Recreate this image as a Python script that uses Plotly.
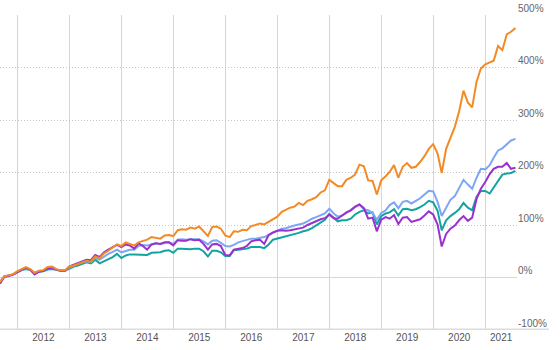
import pandas as pd
import plotly.graph_objects as go

# Monthly observations, Sep 2011 .. Aug 2021 (cumulative return, %)
start_month = "2011-09-01"
n_months = 120

orange = [-9, 2, 4, 6, 12, 16, 20, 16, 9, 13, 14, 20, 21, 16, 14, 14, 21, 23, 26, 29,
          32, 30, 40, 37, 46, 51, 57, 63, 60, 67, 64, 61, 67, 69, 72, 77, 75, 74, 80, 81,
          79, 90, 92, 91, 95, 93, 97, 88, 79, 96, 97, 93, 80, 77, 88, 87, 91, 90, 98, 100,
          103, 101, 106, 110, 116, 125, 129, 133, 135, 142, 138, 146, 149, 153, 162, 166, 186, 180, 174, 174,
          186, 190, 196, 215, 212, 185, 184, 158, 185, 193, 201, 214, 190, 211, 218, 209, 211, 220, 231, 245,
          254, 236, 199, 245, 265, 287, 316, 356, 333, 324, 373, 398, 406, 410, 413, 441, 433, 463, 468, 475]

blue = [-9, 2, 4, 6, 10, 15, 17, 15, 8, 12, 13, 17, 19, 15, 13, 13, 19, 23, 26, 29,
        31, 30, 37, 34, 40, 45, 49, 53, 48, 50, 53, 53, 60, 62, 61, 63, 65, 64, 66, 67,
        64, 72, 73, 72, 73, 73, 73, 69, 63, 70, 71, 66, 60, 59, 62, 67, 69, 71, 74, 74,
        75, 77, 81, 85, 90, 93, 94, 97, 99, 101, 103, 107, 112, 115, 118, 122, 131, 122, 116, 118,
        123, 128, 134, 139, 130, 128, 123, 110, 123, 128, 138, 143, 132, 144, 146, 141, 146, 151, 158, 165,
        164, 144, 117, 133, 148, 155, 169, 186, 177, 169, 190, 207, 206, 214, 228, 242, 246, 254, 261, 264]

purple = [-12, 1, 3, 5, 10, 15, 18, 15, 6, 11, 13, 17, 19, 15, 13, 13, 21, 24, 27, 30,
          34, 33, 43, 39, 48, 53, 58, 62, 58, 63, 61, 55, 65, 60, 53, 63, 65, 64, 67, 67,
          61, 71, 70, 70, 73, 71, 72, 64, 53, 63, 64, 60, 43, 42, 53, 54, 56, 60, 69, 71,
          72, 64, 81, 86, 89, 90, 89, 90, 92, 94, 95, 100, 104, 108, 111, 113, 120, 113, 112, 118,
          124, 128, 135, 139, 132, 112, 114, 88, 110, 115, 112, 119, 102, 114, 115, 106, 109, 111, 118, 126,
          120, 101, 59, 83, 93, 99, 109, 117, 108, 114, 150, 169, 182, 197, 207, 211, 211, 218, 207, 209]

teal = [-9, 2, 4, 6, 10, 14, 16, 14, 8, 11, 12, 15, 16, 14, 13, 13, 17, 21, 23, 26,
        29, 27, 34, 27, 31, 36, 39, 45, 37, 42, 44, 44, 44, 44, 43, 47, 48, 48, 51, 52,
        47, 55, 55, 54, 54, 55, 55, 50, 40, 51, 51, 48, 41, 41, 52, 53, 54, 55, 58, 58,
        58, 56, 63, 72, 74, 76, 78, 80, 83, 85, 88, 90, 94, 99, 104, 110, 121, 113, 107, 109,
        109, 112, 120, 125, 128, 122, 124, 101, 117, 122, 124, 130, 118, 130, 131, 128, 130, 134, 139, 146,
        143, 127, 90, 109, 117, 123, 130, 142, 133, 128, 154, 165, 165, 160, 172, 185, 196, 198, 199, 203]

year_labels = ["2012", "2013", "2014", "2015", "2016", "2017", "2018", "2019", "2020", "2021"]
y_ticks = [-100, 0, 100, 200, 300, 400, 500]

dates = pd.date_range(start_month, periods=n_months, freq="MS")
x_start = pd.Timestamp("2011-09-01")
x_end = pd.Timestamp("2021-08-12")

year_starts = [pd.Timestamp(f"{y}-01-01") for y in year_labels]
label_pos = []
for ys in year_starts:
    ye = min(ys + pd.DateOffset(years=1), x_end)
    label_pos.append(ys + (ye - ys) / 2)

fig = go.Figure()
series = [
    ("teal", teal, "#13a3a0"),
    ("blue", blue, "#7ea6f6"),
    ("purple", purple, "#9a31cf"),
    ("orange", orange, "#f28b26"),
]
for name, vals, col in series:
    fig.add_trace(go.Scatter(x=dates, y=vals, mode="lines", name=name,
                             line=dict(color=col, width=2), hoverinfo="skip"))

fig.update_layout(
    width=560, height=350,
    margin=dict(l=0, r=43, t=15, b=20),
    paper_bgcolor="white", plot_bgcolor="white",
    showlegend=False,
    font=dict(family="Liberation Sans, Arial, sans-serif", size=10, color="#666666"),
)
fig.update_xaxes(
    range=[x_start, x_end],
    tickmode="array", tickvals=label_pos, ticktext=year_labels,
    showgrid=False, zeroline=False, showline=False, ticks="",
    tickfont=dict(size=10, color="#555555"),
    minor=dict(tickmode="array", tickvals=year_starts, showgrid=True,
               gridcolor="#d6d6d6", gridwidth=1, ticks=""),
)
fig.update_yaxes(
    range=[-100, 500], side="right",
    tickmode="array", tickvals=y_ticks, ticktext=[f"{v}%" for v in y_ticks],
    ticklabelposition="outside top",
    showgrid=True, gridcolor="#c4c4c4", griddash="1px,2px", gridwidth=1,
    zeroline=True, zerolinecolor="#d6d6d6", zerolinewidth=1,
    showline=False, ticks="",
    tickfont=dict(size=10, color="#666666"),
)
# thick bottom axis bar
fig.add_shape(type="line", xref="paper", yref="y", x0=0, x1=549 / 517, y0=-100, y1=-100,
              line=dict(color="#dcdcdc", width=3), layer="above")

fig.write_html("out.html")
